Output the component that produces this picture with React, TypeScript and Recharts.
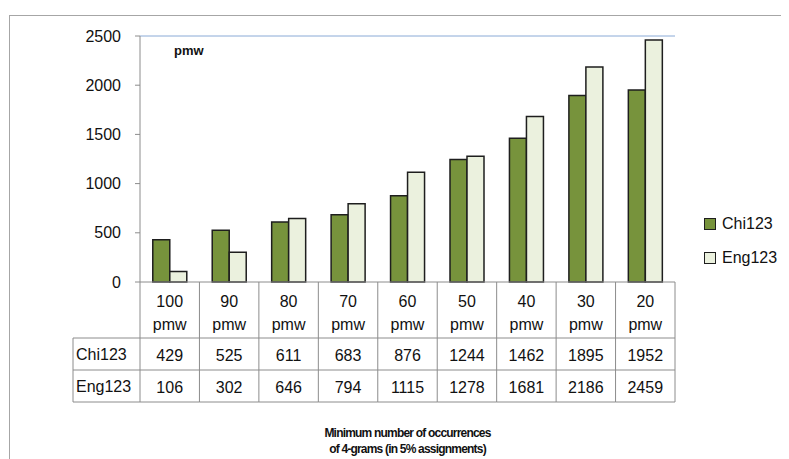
import { Bar, BarChart, ReferenceLine, XAxis, YAxis } from "recharts";

// minimum frequency thresholds (pmw) on the category axis
const categories = ["100 pmw", "90 pmw", "80 pmw", "70 pmw", "60 pmw", "50 pmw", "40 pmw", "30 pmw", "20 pmw"];
const chi123 = [429, 525, 611, 683, 876, 1244, 1462, 1895, 1952];
const eng123 = [106, 302, 646, 794, 1115, 1278, 1681, 2186, 2459];
const yTicks = [0, 500, 1000, 1500, 2000, 2500];
const seriesNames = ["Chi123", "Eng123"];

const data = categories.map((name, i) => ({ name, Chi123: chi123[i], Eng123: eng123[i] }));

const FONT = "'Liberation Sans', Arial, sans-serif";
const GREEN = "#77933C";
const PALE = "#EBF1DE";
const EDGE = "#1e1e1e";
const GRID = "#8c8c8c";
const FRAME_BLUE = "#8aaad6";
const seriesColors = [GREEN, PALE];

const HEADER_H = 56;
const ROW_H = 32;
const LABEL_W = 67;

// draws one column of the data table under each category
function TableTick(props: any) {
  const { x, y, payload } = props;
  const half = payload.offset || 29.7;
  const left = x - half;
  const right = x + half;
  const i = payload.index;
  const [num, unit] = String(payload.value).split(" ");
  const rows = [chi123[i], eng123[i]];
  const bottom = y + HEADER_H + ROW_H * 2;
  return (
    <g fontFamily={FONT} fontSize={16} fill="#111">
      {i === 0 && (
        <g>
          <line x1={left} y1={y} x2={left} y2={bottom} stroke={GRID} />
          <line x1={left - LABEL_W} y1={y + HEADER_H} x2={left - LABEL_W} y2={bottom} stroke={GRID} />
          {[0, 1, 2].map((r) => (
            <line key={r} x1={left - LABEL_W} x2={left} y1={y + HEADER_H + r * ROW_H} y2={y + HEADER_H + r * ROW_H} stroke={GRID} />
          ))}
          {seriesNames.map((s, r) => (
            <text key={s} x={left - LABEL_W + 3} y={y + HEADER_H + r * ROW_H + ROW_H / 2} dominantBaseline="central" stroke="none">
              {s}
            </text>
          ))}
        </g>
      )}
      <line x1={right} y1={y} x2={right} y2={bottom} stroke={GRID} />
      {[0, 1, 2].map((r) => (
        <line key={r} x1={left} x2={right} y1={y + HEADER_H + r * ROW_H} y2={y + HEADER_H + r * ROW_H} stroke={GRID} />
      ))}
      <text x={x} y={y + 19} textAnchor="middle" dominantBaseline="central" stroke="none">{num}</text>
      <text x={x} y={y + 42} textAnchor="middle" dominantBaseline="central" stroke="none">{unit}</text>
      {rows.map((v, r) => (
        <text key={r} x={x} y={y + HEADER_H + r * ROW_H + ROW_H / 2 + 1} textAnchor="middle" dominantBaseline="central" stroke="none">
          {v}
        </text>
      ))}
    </g>
  );
}

export default function App() {
  return (
    <div style={{ position: "relative", width: 789, height: 459, marginLeft: -8, marginTop: -8, overflow: "hidden", background: "#fff" }}>
      <div style={{ position: "absolute", left: 9, top: 15, width: 800, height: 460, border: "1px solid #a6a6a6" }} />
      <BarChart
        width={789}
        height={459}
        data={data}
        margin={{ top: 36, right: 114, bottom: 0, left: 0 }}
        barCategoryGap="21.5%"
        barGap={0}
        style={{ position: "absolute", left: 0, top: 0 }}
      >
        <XAxis
          dataKey="name"
          height={177}
          interval={0}
          tickSize={0}
          tickMargin={0}
          tick={<TableTick />}
          axisLine={{ stroke: GRID }}
          tickLine={false}
        />
        <YAxis
          yAxisId="left"
          width={140}
          domain={[0, 2500]}
          ticks={yTicks}
          tickSize={5}
          tickMargin={14}
          tick={{ fill: "#111", fontSize: 16, fontFamily: FONT }}
          axisLine={{ stroke: GRID }}
          tickLine={{ stroke: GRID }}
        />
        <YAxis
          yAxisId="right"
          orientation="right"
          width={0}
          domain={[0, 2500]}
          tick={false}
          tickLine={false}
          axisLine={{ stroke: FRAME_BLUE }}
        />
        <ReferenceLine yAxisId="left" y={2500} stroke={FRAME_BLUE} />
        <Bar yAxisId="left" dataKey="Chi123" fill={GREEN} stroke={EDGE} strokeWidth={1.5} isAnimationActive={false} />
        <Bar yAxisId="left" dataKey="Eng123" fill={PALE} stroke={EDGE} strokeWidth={1.5} isAnimationActive={false} />
      </BarChart>
      <div style={{ position: "absolute", left: 704, top: 207, fontFamily: FONT, fontSize: 16, color: "#111" }}>
        {seriesNames.map((s, i) => (
          <div key={s} style={{ display: "flex", alignItems: "center", height: 34 }}>
            <span
              style={{
                display: "inline-block",
                width: 10,
                height: 10,
                background: seriesColors[i],
                border: `1px solid ${EDGE}`,
                marginRight: 6,
              }}
            />
            {s}
          </div>
        ))}
      </div>
      <div style={{ position: "absolute", left: 174, top: 43, fontFamily: FONT, fontSize: 13, fontWeight: "bold", color: "#111" }}>
        pmw
      </div>
      <div
        style={{
          position: "absolute",
          left: 140,
          width: 535,
          top: 425,
          textAlign: "center",
          fontFamily: FONT,
          fontSize: 12,
          fontWeight: "bold",
          letterSpacing: -0.8,
          lineHeight: "16px",
          color: "#111",
        }}
      >
        Minimum number of occurrences
        <br />
        of 4-grams (in 5% assignments)
      </div>
    </div>
  );
}
